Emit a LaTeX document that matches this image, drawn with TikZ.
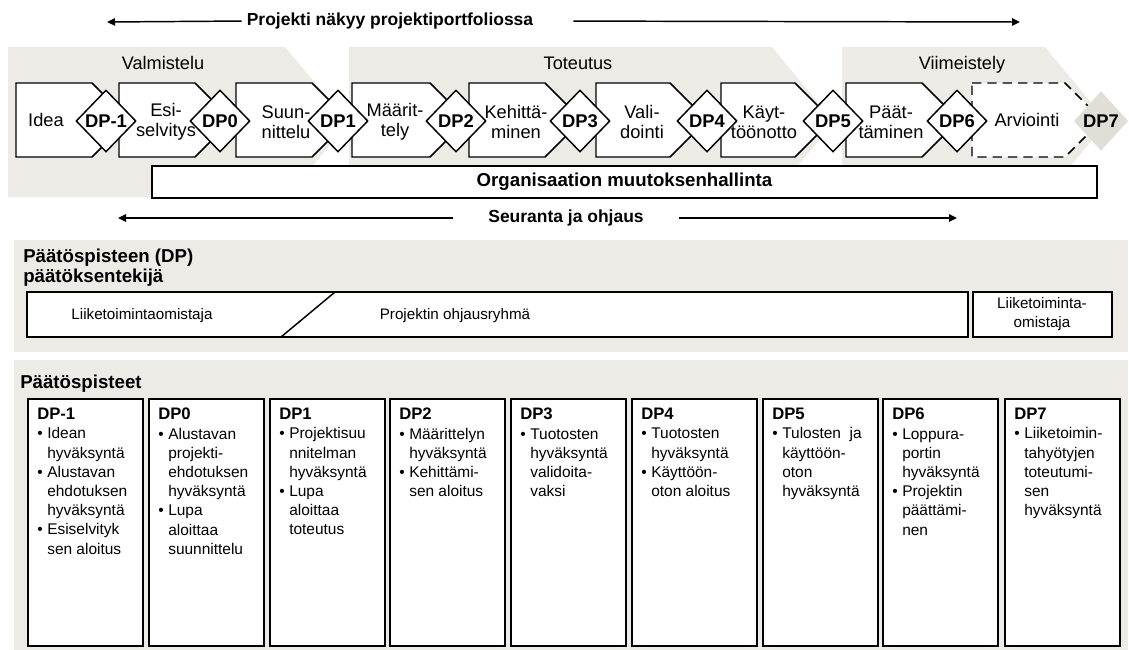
\documentclass[tikz,border=0pt]{standalone}
\usepackage{fontspec}
\setmainfont{Liberation Sans}
\usetikzlibrary{shapes.geometric,arrows.meta}

\definecolor{panel}{RGB}{237,235,230}
\definecolor{gategray}{RGB}{224,222,215}

\newcommand{\fsz}[2]{\fontsize{#1}{#2}\selectfont}
% bullet item and its continuation lines
\newcommand{\bp}{\makebox[7.5pt][l]{\textbullet}}
\newcommand{\bi}{\hspace*{7.5pt}}
\newcommand{\cardtitle}[1]{{\fsz{12.5}{14.4}\bfseries #1}}

\tikzset{
  panelfill/.style={fill=panel, draw=none},
  procbox/.style={draw, fill=white, line width=1.1pt, line join=miter},
  proctext/.style={font=\fsz{13.7}{15}, align=center, inner sep=0pt},
  gate/.style={diamond, draw, fill=white, line width=1.1pt, inner sep=0pt,
    minimum width=45pt, minimum height=46.5pt, font=\fsz{13.8}{15}\bfseries},
  phaselabel/.style={font=\fsz{13.6}{15}, inner sep=0pt, anchor=base},
  boldnote/.style={font=\fsz{13.1}{15}\bfseries, inner sep=0pt},
  arr/.style={line width=1.1pt, -{Triangle[length=6pt,width=5.5pt]}},
  heading/.style={font=\fsz{14}{14.3}\bfseries, align=left, inner sep=0pt, anchor=base west},
  barline/.style={draw, line width=1.5pt},
  bartext/.style={font=\fsz{11.4}{14.2}, align=center, inner sep=0pt},
  card/.style={draw, fill=white, line width=1.5pt, anchor=north west, inner sep=0pt,
    minimum width=86.25pt, minimum height=185.25pt},
  cardtext/.style={font=\fsz{11.6}{14.4}, align=left, inner sep=0pt, anchor=north west}
}

\begin{document}
\begin{tikzpicture}[x=0.75pt,y=-0.75pt]
\useasboundingbox (0,0) rectangle (1129,650);

% ---------- phase panels ----------
\fill[panelfill] (8,47) -- (285,47) -- (348,122) -- (288,197) -- (8,197) -- cycle;
\fill[panelfill] (349,47) -- (772,47) -- (834,122) -- (772,197) -- (349,197) -- cycle;
\fill[panelfill] (842,47) -- (1045,47) -- (1107,122) -- (1045,197) -- (842,197) -- cycle;

\node[phaselabel] (ph1) at (163,69.5) {Valmistelu};
\node[phaselabel] (ph2) at (578,69.5) {Toteutus};
\node[phaselabel] (ph3) at (962,69.5) {Viimeistely};

% ---------- portfolio arrow ----------
\node[boldnote] (portfolio) at (390,21) {Projekti näkyy projektiportfoliossa};
\coordinate (portL) at (107,22);
\coordinate (portR) at (1020,22);
\draw[arr, shorten <=3.75pt] (portfolio.west) -- (portL);
\draw[arr, shorten <=30pt] (portfolio.east) -- (portR);

% ---------- process stages ----------
\newcommand{\stage}[3][]{\draw[procbox,#1] (#2,83) -- (#3,83) -- ++(37,37) -- ++(-37,37) -- (#2,157) -- cycle;}
\stage{16}{92}
\stage{119}{195}
\stage{236}{312}
\stage{352}{430}
\stage{469}{545}
\stage{596}{670}
\stage{721}{795}
\stage{846}{922}
\stage[dash pattern=on 7pt off 4.5pt]{972}{1065}

\node[proctext] (s1) at (46,120) {Idea};
\node[proctext] (s2) at (166,122) {Esi-\\selvitys};
\node[proctext] (s3) at (286,122) {Suun-\\nittelu};
\node[proctext] (s4) at (395,122) {Määrit-\\tely};
\node[proctext] (s5) at (516,122) {Kehittä-\\minen};
\node[proctext] (s6) at (642,122) {Vali-\\dointi};
\node[proctext] (s7) at (764,122) {Käyt-\\töönotto};
\node[proctext] (s8) at (891,122) {Päät-\\täminen};
\node[proctext] (s9) at (1027,120) {Arviointi};

% ---------- decision gates ----------
\node[gate] (g0) at (106,121) {DP-1};
\node[gate] (g1) at (220,121) {DP0};
\node[gate] (g2) at (338,121) {DP1};
\node[gate] (g3) at (456,121) {DP2};
\node[gate] (g4) at (580,121) {DP3};
\node[gate] (g5) at (707,121) {DP4};
\node[gate] (g6) at (833,121) {DP5};
\node[gate] (g7) at (957,121) {DP6};
\node[gate, draw=none, fill=gategray, minimum width=41pt, minimum height=45pt] (g8) at (1101,121) {DP7};

% ---------- change management bar ----------
\node[draw, fill=white, line width=1.1pt, minimum width=708.75pt, minimum height=24pt,
      font=\fsz{14}{15}\bfseries] (org) at (624.5,182) {Organisaation muutoksenhallinta};

% ---------- monitoring arrow ----------
\node[boldnote] (monitor) at (566,218) {Seuranta ja ohjaus};
\coordinate (monL) at (118,218);
\coordinate (monR) at (957,218);
\draw[arr, shorten <=26pt] (monitor.west) -- (monL);
\draw[arr, shorten <=26pt] (monitor.east) -- (monR);

% ---------- decision makers ----------
\fill[panelfill] (14,240) rectangle (1128,352);
\node[heading] (dmhead) at (23,282) {Päätöspisteen (DP)\\päätöksentekijä};
\draw[barline, fill=white] (27,292) rectangle (968,337);
\draw[barline, line width=1.1pt] (335,292) -- (281,337);
\node[bartext] (dm1) at (142,316) {Liiketoimintaomistaja};
\node[bartext] (dm2) at (455,316) {Projektin ohjausryhmä};
\draw[barline, fill=white] (973,292) rectangle (1112,337);
\node[bartext] (dm3) at (1042,314) {Liiketoiminta-\\omistaja};

% ---------- decision points ----------
\fill[panelfill] (14,360) rectangle (1128,650);
\node[heading] (dphead) at (20,388) {Päätöspisteet};

\node[card] (c1) at (27,398) {};
\node[card] (c2) at (148,398) {};
\node[card] (c3) at (269,398) {};
\node[card] (c4) at (389,398) {};
\node[card] (c5) at (510,398) {};
\node[card, minimum width=93.75pt] (c6) at (631,398) {};
\node[card] (c7) at (762,398) {};
\node[card] (c8) at (882,398) {};
\node[card] (c9) at (1004,398) {};

\node[cardtext] (c1t) at (37,408) {\cardtitle{DP-1}\\
  \bp Idean\\ \bi hyväksyntä\\ \bp Alustavan\\ \bi ehdotuksen\\ \bi hyväksyntä\\
  \bp Esiselvityk\\ \bi sen aloitus};
\node[cardtext] (c2t) at (158,408) {\cardtitle{DP0}\\
  \bp Alustavan\\ \bi projekti-\\ \bi ehdotuksen\\ \bi hyväksyntä\\
  \bp Lupa\\ \bi aloittaa\\ \bi suunnittelu};
\node[cardtext] (c3t) at (279,408) {\cardtitle{DP1}\\
  \bp Projektisuu\\ \bi nnitelman\\ \bi hyväksyntä\\
  \bp Lupa\\ \bi aloittaa\\ \bi toteutus};
\node[cardtext] (c4t) at (399,408) {\cardtitle{DP2}\\
  \bp Määrittelyn\\ \bi hyväksyntä\\ \bp Kehittämi-\\ \bi sen aloitus};
\node[cardtext] (c5t) at (520,408) {\cardtitle{DP3}\\
  \bp Tuotosten\\ \bi hyväksyntä\\ \bi validoita-\\ \bi vaksi};
\node[cardtext] (c6t) at (641,408) {\cardtitle{DP4}\\
  \bp Tuotosten\\ \bi hyväksyntä\\ \bp Käyttöön-\\ \bi oton aloitus};
\node[cardtext] (c7t) at (772,408) {\cardtitle{DP5}\\
  \bp Tulosten\ \ ja\\ \bi käyttöön-\\ \bi oton\\ \bi hyväksyntä};
\node[cardtext] (c8t) at (892,408) {\cardtitle{DP6}\\
  \bp Loppura-\\ \bi portin\\ \bi hyväksyntä\\ \bp Projektin\\ \bi päättämi-\\ \bi nen};
\node[cardtext] (c9t) at (1014,408) {\cardtitle{DP7}\\
  \bp Liiketoimin-\\ \bi tahyötyjen\\ \bi toteutumi-\\ \bi sen\\ \bi hyväksyntä};
\end{tikzpicture}
\end{document}
